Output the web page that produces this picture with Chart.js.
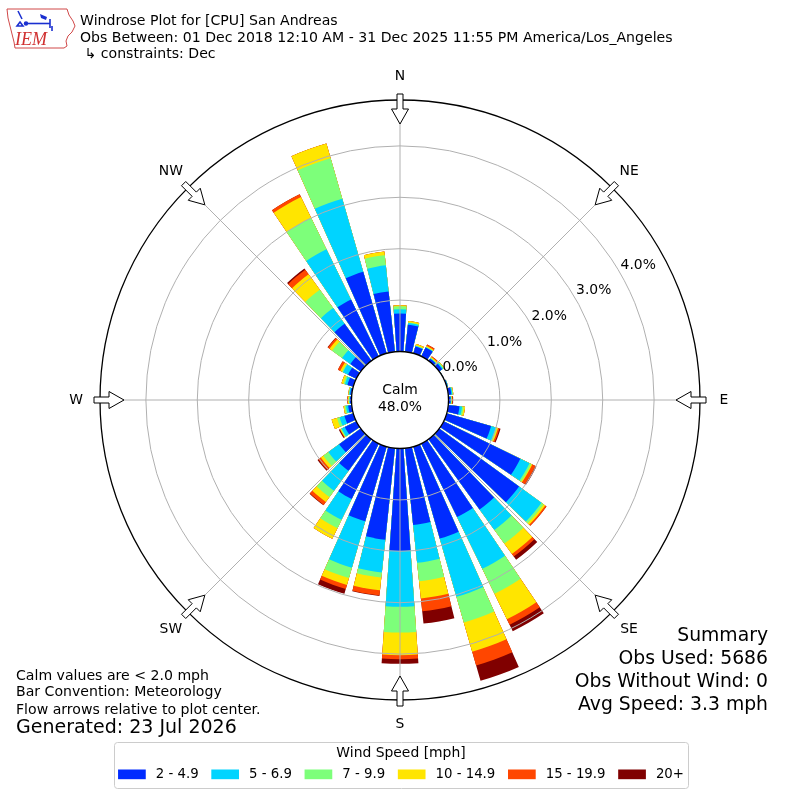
<!DOCTYPE html>
<html>
<head>
<meta charset="utf-8">
<script src="https://cdn.jsdelivr.net/npm/chart.js@4.4.1/dist/chart.umd.min.js"></script>
<style>
html,body{margin:0;padding:0;background:#fff;}
#wrap{width:800px;height:800px;}
</style>
</head>
<body>
<div id="wrap"><canvas id="c" width="800" height="800"></canvas></div>
<script>
// ---- data (percent of observations per direction bin, by speed class) ----
const directions = ['0','10','20','30','40','50','60','70','80','90','100','110','120','130','140','150','160','170',
                    '180','190','200','210','220','230','240','250','260','270','280','290','300','310','320','330','340','350'];
const speedLabels = ['2 - 4.9', '5 - 6.9', '7 - 9.9', '10 - 14.9', '15 - 19.9', '20+'];
const speed2to5   = [0.74,0.53,0.14,0.19,0.05,0.07,0.01,0.02,0.06,0.04,0.22,0.90,1.66,1.92,1.69,1.59,1.86,1.50,1.99,1.79,1.51,1.20,0.76,0.52,0.25,0.18,0.07,0.03,0.03,0.12,0.18,0.25,0.89,1.23,1.65,1.18];
const speed5to7   = [0.08,0.03,0.01,0.01,0.01,0.02,0.00,0.01,0.02,0.01,0.05,0.10,0.20,0.54,0.49,1.12,1.18,0.74,1.09,0.64,0.94,0.45,0.48,0.26,0.07,0.10,0.04,0.01,0.02,0.05,0.11,0.20,0.38,1.09,1.48,0.51];
const speed7to10  = [0.06,0.01,0.01,0.01,0.01,0.02,0.00,0.00,0.01,0.01,0.03,0.02,0.04,0.05,0.33,0.54,0.52,0.36,0.50,0.10,0.21,0.18,0.15,0.12,0.02,0.05,0.03,0.01,0.01,0.03,0.02,0.24,0.44,0.68,0.82,0.20];
const speed10to15 = [0.02,0.03,0.03,0.02,0.02,0.01,0.00,0.00,0.01,0.01,0.03,0.02,0.02,0.04,0.25,0.55,0.59,0.34,0.44,0.25,0.14,0.23,0.12,0.06,0.01,0.11,0.02,0.02,0.01,0.04,0.04,0.06,0.37,0.45,0.30,0.07];
const speed15to20 = [0.00,0.00,0.00,0.03,0.02,0.00,0.00,0.00,0.00,0.01,0.00,0.03,0.07,0.03,0.06,0.12,0.28,0.25,0.08,0.10,0.08,0.00,0.07,0.06,0.01,0.00,0.00,0.01,0.00,0.00,0.05,0.04,0.11,0.06,0.00,0.00];
const speed20plus = [0.00,0.00,0.00,0.00,0.00,0.00,0.00,0.00,0.00,0.01,0.00,0.02,0.02,0.00,0.08,0.14,0.31,0.24,0.09,0.01,0.10,0.00,0.01,0.02,0.02,0.00,0.00,0.00,0.00,0.00,0.00,0.01,0.03,0.00,0.00,0.00];
const radialTicks = [0, 1, 2, 3, 4];
const calmPercent = 48.0;
const compassLabels = ['N','NE','E','SE','S','SW','W','NW'];

// ---- styling / layout ----
const speedColors = ['#002bff', '#00d4ff', '#7dff7a', '#ffe500', '#ff4600', '#800000'];
const R_MIN = -0.944, R_MAX = 4.893;   // calm hole below 0 %
const BAR_OPENING = 0.8;
const FONT = '"DejaVu Sans", "Liberation Sans", sans-serif';

const series = [speed2to5, speed5to7, speed7to10, speed10to15, speed15to20, speed20plus];
// stacked by cumulative totals; dataset 0 (smallest) is drawn on top
const datasets = series.map((s, i) => ({
  label: speedLabels[i],
  data: directions.map((d, j) => series.slice(0, i + 1).reduce((acc, arr) => acc + arr[j], 0)),
  backgroundColor: speedColors[i],
  borderWidth: 0
}));

const narrowBars = {
  id: 'narrowBars',
  afterDatasetsUpdate(chart) {
    chart.data.datasets.forEach((ds, i) => {
      chart.getDatasetMeta(i).data.forEach(arc => {
        const mid = (arc.startAngle + arc.endAngle) / 2;
        const half = (arc.endAngle - arc.startAngle) / 2 * BAR_OPENING;
        arc.startAngle = mid - half;
        arc.endAngle = mid + half;
        arc.circumference = 2 * half;
      });
    });
  }
};

function compassAngle(deg) { return (deg - 90) * Math.PI / 180; }
function polarPoint(scale, deg, dist) {
  const a = compassAngle(deg);
  return { x: scale.xCenter + Math.cos(a) * dist, y: scale.yCenter + Math.sin(a) * dist };
}

function drawLogo(ctx) {
  ctx.save();
  ctx.strokeStyle = '#d04848';
  ctx.lineWidth = 1;
  ctx.beginPath();
  const pts = [[7,9],[67,9],[69,15],[73,21],[75,26],[72,32],[68,36],[66,41],[67,46],[64,48],[15,48],[14,42],[12,34],[10,26],[8,18],[7,9]];
  pts.forEach((p, i) => i ? ctx.lineTo(p[0], p[1]) : ctx.moveTo(p[0], p[1]));
  ctx.stroke();
  ctx.strokeStyle = '#1a2fd0';
  ctx.fillStyle = '#1a2fd0';
  ctx.lineWidth = 1.6;
  ctx.beginPath(); ctx.moveTo(18, 11); ctx.lineTo(22, 19); ctx.stroke();
  ctx.beginPath(); ctx.moveTo(24, 23.5); ctx.lineTo(50, 23.5); ctx.stroke();
  ctx.beginPath(); ctx.arc(26, 23.5, 2.2, 0, Math.PI * 2); ctx.fill();
  ctx.beginPath(); ctx.moveTo(20, 22); ctx.lineTo(23, 26); ctx.lineTo(17, 26); ctx.closePath(); ctx.stroke();
  ctx.beginPath(); ctx.moveTo(40, 14); ctx.lineTo(47, 17); ctx.lineTo(46, 20); ctx.lineTo(41, 18); ctx.closePath(); ctx.fill();
  ctx.beginPath(); ctx.moveTo(50, 19); ctx.lineTo(50, 28); ctx.stroke();
  ctx.beginPath(); ctx.moveTo(52, 26); ctx.lineTo(52, 31); ctx.stroke();
  ctx.fillStyle = '#d03030';
  ctx.font = 'italic 18px "Liberation Serif", serif';
  ctx.textAlign = 'left'; ctx.textBaseline = 'alphabetic';
  ctx.fillText('IEM', 15, 45);
  ctx.restore();
}

const decorations = {
  id: 'decorations',
  afterDraw(chart) {
    const ctx = chart.ctx;
    const scale = chart.scales.r;
    const cx = scale.xCenter, cy = scale.yCenter, R = scale.drawingArea;
    ctx.save();
    // spokes every 45 degrees
    ctx.strokeStyle = '#b0b0b0';
    ctx.lineWidth = 1;
    for (let k = 0; k < 8; k++) {
      const p = polarPoint(scale, k * 45, R);
      ctx.beginPath(); ctx.moveTo(cx, cy); ctx.lineTo(p.x, p.y); ctx.stroke();
    }
    // calm circle
    const r0 = scale.getDistanceFromCenterForValue(0);
    ctx.beginPath(); ctx.arc(cx, cy, r0, 0, Math.PI * 2);
    ctx.fillStyle = '#fff'; ctx.fill();
    ctx.strokeStyle = '#000'; ctx.lineWidth = 1.3; ctx.stroke();
    ctx.fillStyle = '#000';
    ctx.font = '13.9px ' + FONT;
    ctx.textAlign = 'center'; ctx.textBaseline = 'middle';
    ctx.fillText('Calm', cx, cy - 10);
    ctx.fillText(calmPercent.toFixed(1) + '%', cx, cy + 7.5);
    // radial tick labels along 60 degrees
    ctx.textAlign = 'left';
    radialTicks.forEach(v => {
      const p = polarPoint(scale, 60, scale.getDistanceFromCenterForValue(v));
      ctx.fillText(v.toFixed(1) + '%', p.x + 0.5, p.y - 8);
    });
    // flow arrows
    for (let k = 0; k < 8; k++) {
      const a = compassAngle(k * 45);
      const ux = Math.cos(a), uy = Math.sin(a), px = -uy, py = ux;
      const P = (r, w) => [cx + ux * r + px * w, cy + uy * r + py * w];
      const pts = [P(R + 6, 3), P(R - 9, 3), P(R - 9, 8.5), P(R - 24, 0), P(R - 9, -8.5), P(R - 9, -3), P(R + 6, -3)];
      ctx.beginPath();
      pts.forEach((q, i) => i ? ctx.lineTo(q[0], q[1]) : ctx.moveTo(q[0], q[1]));
      ctx.closePath();
      ctx.fillStyle = '#fff'; ctx.fill();
      ctx.strokeStyle = '#000'; ctx.lineWidth = 1; ctx.stroke();
    }
    // compass labels
    ctx.fillStyle = '#000';
    ctx.textAlign = 'center'; ctx.textBaseline = 'middle';
    compassLabels.forEach((lab, k) => {
      const p = polarPoint(scale, k * 45, R + 24);
      ctx.fillText(lab, p.x, p.y);
    });
    // header
    ctx.font = '14.1px ' + FONT;
    ctx.textAlign = 'left'; ctx.textBaseline = 'alphabetic';
    ctx.fillText('Windrose Plot for [CPU] San Andreas', 80, 25);
    ctx.fillText('Obs Between: 01 Dec 2018 12:10 AM - 31 Dec 2025 11:55 PM America/Los_Angeles', 80, 41.7);
    ctx.fillText(' \u21B3 constraints: Dec', 80, 58);
    drawLogo(ctx);
    // bottom-left notes
    ctx.textBaseline = 'middle';
    ctx.fillText('Calm values are < 2.0 mph', 16, 676);
    ctx.fillText('Bar Convention: Meteorology', 16, 692.7);
    ctx.fillText('Flow arrows relative to plot center.', 16, 710);
    ctx.font = '19px ' + FONT;
    ctx.fillText('Generated: 23 Jul 2026', 16, 728.5);
    // summary
    ctx.font = '18.8px ' + FONT;
    ctx.textAlign = 'right';
    ctx.fillText('Summary', 768, 635.7);
    ctx.fillText('Obs Used: 5686', 768, 659);
    ctx.fillText('Obs Without Wind: 0', 768, 682.3);
    ctx.fillText('Avg Speed: 3.3 mph', 768, 705);
    // legend
    const bx = 114, by = 742, bw = 574, bh = 46;
    ctx.beginPath();
    if (ctx.roundRect) ctx.roundRect(bx + 0.5, by + 0.5, bw, bh, 3); else ctx.rect(bx + 0.5, by + 0.5, bw, bh);
    ctx.fillStyle = 'rgba(255,255,255,0.8)'; ctx.fill();
    ctx.strokeStyle = '#cccccc'; ctx.lineWidth = 1; ctx.stroke();
    ctx.fillStyle = '#000';
    ctx.font = '13.9px ' + FONT;
    ctx.textAlign = 'center';
    ctx.fillText('Wind Speed [mph]', 401, 753.3);
    ctx.textAlign = 'left';
    ctx.font = '13.3px ' + FONT;
    const sw = 27.7, gapText = 10, gapItem = 12.7;
    let total = 0;
    chart.data.datasets.forEach((ds, i) => {
      total += sw + gapText + ctx.measureText(ds.label).width + (i < chart.data.datasets.length - 1 ? gapItem : 0);
    });
    let x = 401 - total / 2;
    chart.data.datasets.forEach(ds => {
      ctx.fillStyle = ds.backgroundColor;
      ctx.fillRect(x, 769.5, sw, 9.7);
      ctx.fillStyle = '#000';
      ctx.fillText(ds.label, x + sw + gapText, 774.3);
      x += sw + gapText + ctx.measureText(ds.label).width + gapItem;
    });
    ctx.restore();
  }
};

new Chart(document.getElementById('c'), {
  type: 'polarArea',
  data: { labels: directions, datasets: datasets },
  options: {
    responsive: false,
    animation: false,
    events: [],
    layout: { padding: 100 },
    plugins: { legend: { display: false }, tooltip: { enabled: false }, title: { display: false } },
    scales: {
      r: {
        min: R_MIN,
        max: R_MAX,
        startAngle: -5,
        ticks: { display: false, stepSize: 1 },
        pointLabels: { display: false },
        angleLines: { display: false },
        grid: {
          z: 1,
          circular: true,
          color: c => (c.tick && Math.abs(c.tick.value - R_MAX) < 1e-6) ? '#000' : '#b0b0b0',
          lineWidth: c => (c.tick && Math.abs(c.tick.value - R_MAX) < 1e-6) ? 1.3 : 1
        },
        afterBuildTicks: scale => {
          scale.ticks = radialTicks.concat([R_MAX]).map(v => ({ value: v }));
        }
      }
    }
  },
  plugins: [narrowBars, decorations]
});
</script>
</body>
</html>
